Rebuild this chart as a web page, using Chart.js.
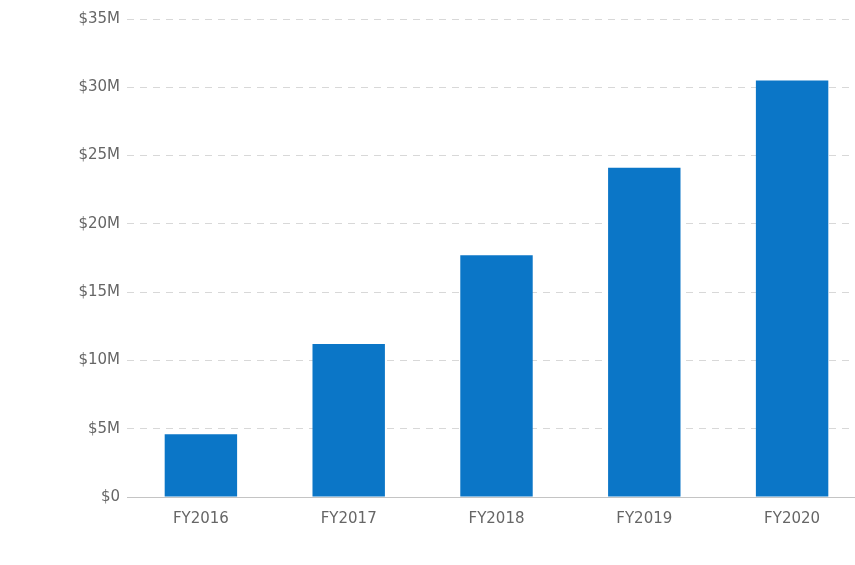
<!DOCTYPE html>
<html>
<head>
<meta charset="utf-8">
<script src="https://cdn.jsdelivr.net/npm/chart.js@4"></script>
<style>
  html, body { margin: 0; padding: 0; background: #fff; overflow: hidden; }
  #wrap { position: relative; width: 866px; height: 565px; }
</style>
</head>
<body>
<div id="wrap"><canvas id="revChart"></canvas></div>
<script>
'use strict';

// revenue per fiscal year, in millions of dollars
let years = ['FY2016', 'FY2017', 'FY2018', 'FY2019', 'FY2020'];
let revenue = [4.6, 11.2, 17.7, 24.1, 30.5];
let yMax = 35;
let yStep = 5;

let barBlue = '#0b76c7';
let labelGrey = '#666666';
let tickFont = { family: 'DejaVu Sans', size: 15 };

let ctx = document.getElementById('revChart').getContext('2d');
let chart = new Chart(ctx, {
    type: 'bar',
    data: {
        labels: years,
        datasets: [{
            label: 'Revenue',
            data: revenue,
            backgroundColor: barBlue,
            borderWidth: 0,
            categoryPercentage: 1,
            barPercentage: 0.49
        }]
    },
    options: {
        responsive: true,
        maintainAspectRatio: false,
        animation: false,
        layout: { padding: { top: 19, right: 0, bottom: 24, left: 0 } },
        plugins: {
            legend: { display: false },
            tooltip: { enabled: false }
        },
        scales: {
            x: {
                grid: { display: false, drawTicks: false },
                border: { display: true, color: '#c4c4c4', width: 1 },
                ticks: { color: labelGrey, font: tickFont, padding: 13 }
            },
            y: {
                min: 0,
                max: yMax,
                afterFit: function(scale) { scale.width = 127; },
                grid: {
                    drawTicks: false,
                    color: function(c) { return c.tick.value === 0 ? 'rgba(0,0,0,0)' : '#d8d8d8'; },
                    lineWidth: 1
                },
                border: { display: false, dash: [7, 6] },
                ticks: {
                    stepSize: yStep,
                    color: labelGrey,
                    font: tickFont,
                    padding: 7,
                    callback: function(v) { return v === 0 ? '$0' : '$' + v + 'M'; }
                }
            }
        }
    }
});
</script>
</body>
</html>
